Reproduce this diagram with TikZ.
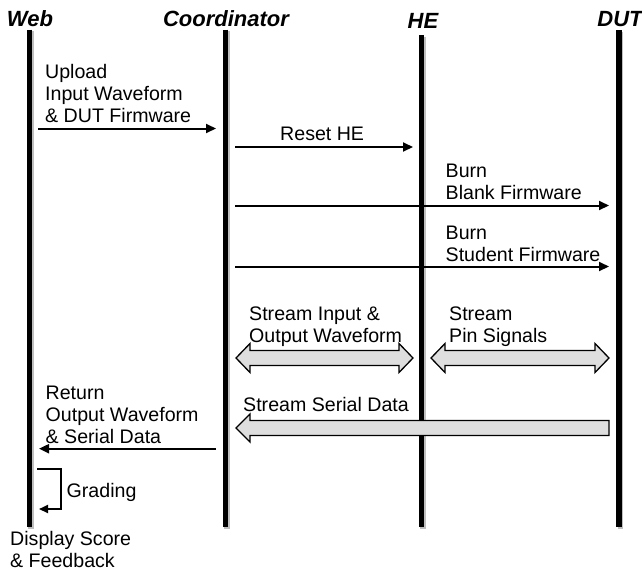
\documentclass[tikz,border=0pt]{standalone}
\usepackage{fontspec}
\setmainfont{Liberation Sans}
\usetikzlibrary{arrows.meta}
\definecolor{blockfill}{HTML}{DEDEDE}
\tikzset{
  lifeline/.style={line width=5.5pt, line cap=butt},
  lifeshadow/.style={line width=5.5pt, black!25},
  msg/.style={line width=2pt, -{Triangle[length=10pt,width=9pt]}},
  lbl/.style={anchor=south west, inner sep=0pt, text depth=0pt, align=left,
    font=\fontsize{19.6}{22}\selectfont},
  title/.style={anchor=base, inner sep=0pt, font=\fontsize{22}{26}\selectfont\bfseries\itshape},
  block/.style={draw=black, line width=1.3pt, fill=blockfill, line join=miter},
}
\begin{document}
\begin{tikzpicture}[x=1pt,y=-1pt]
\useasboundingbox (0,0) rectangle (642,576);
% lifeline coordinates
\coordinate (webT) at (29.5,29.5);   \coordinate (webB) at (29.5,527);
\coordinate (coT)  at (225.5,29.5);  \coordinate (coB)  at (225.5,527);
\coordinate (heT)  at (421.5,35);    \coordinate (heB)  at (421.5,527);
\coordinate (dutT) at (619,30);      \coordinate (dutB) at (619,527);
% shadows
\foreach \a in {web,co,he,dut}{
  \draw[lifeshadow] ([shift={(1.5,1.5)}]\a T) -- ([shift={(1.5,1.5)}]\a B);
}
\foreach \a in {web,co,he,dut}{
  \draw[lifeline] (\a T) -- (\a B);
}
% titles
\node[title] (tweb) at (30,26) {Web};
\node[title] (tco) at (226,26) {Coordinator};
\node[title] (the) at (423,28) {HE};
\node[title] (tdut) at (620,26) {DUT};

% Upload
\coordinate (u1) at (38,128.5); \coordinate (u2) at (216,128.5);
\draw[msg] (u1) -- (u2);
\node[lbl] (lu) at (45,122.7) {Upload\\Input Waveform\\\& DUT Firmware};

% Reset HE
\coordinate (r1) at (235,147); \coordinate (r2) at (413,147);
\draw[msg] (r1) -- (r2);
\node[lbl] (lr) at (280,140.7) {Reset HE};

% Burn blank
\coordinate (b1) at (235,205.5); \coordinate (b2) at (609,205.5);
\draw[msg] (b1) -- (b2);
\node[lbl] (lb) at (445.5,200) {Burn\\Blank Firmware};

% Burn student
\coordinate (s1) at (235,266.5); \coordinate (s2) at (609,266.5);
\draw[msg] (s1) -- (s2);
\node[lbl] (ls) at (445.5,261.7) {Burn\\Student Firmware};

% Stream input & output (double block arrow)
\def\yc{358}
\draw[block] (236,\yc) -- (250,\yc-14.5) -- (250,\yc-7.5) -- (399,\yc-7.5) -- (399,\yc-14.5)
  -- (413,\yc) -- (399,\yc+14.5) -- (399,\yc+7.5) -- (250,\yc+7.5) -- (250,\yc+14.5) -- cycle;
\node[lbl] (lsi) at (249,342.7) {Stream Input \&\\Output Waveform};

% Stream pin signals
\draw[block] (431,\yc) -- (445,\yc-14.5) -- (445,\yc-7.5) -- (595,\yc-7.5) -- (595,\yc-14.5)
  -- (609,\yc) -- (595,\yc+14.5) -- (595,\yc+7.5) -- (445,\yc+7.5) -- (445,\yc+14.5) -- cycle;
\node[lbl] (lsp) at (449,342.7) {Stream\\Pin Signals};

% Stream serial data (single block arrow)
\def\ys{428}
\draw[block] (236,\ys) -- (250,\ys-14) -- (250,\ys-7.5) -- (609,\ys-7.5) -- (609,\ys+7.5)
  -- (250,\ys+7.5) -- (250,\ys+14) -- cycle;
\node[lbl] (lss) at (243,411.7) {Stream Serial Data};

% Return
\coordinate (t1) at (216,448.7); \coordinate (t2) at (39,448.7);
\draw[msg] (t1) -- (t2);
\node[lbl] (lt) at (45.5,443.5) {Return\\Output Waveform\\\& Serial Data};

% Grading
\coordinate (g1) at (37,468.7); \coordinate (g2) at (60.5,468.7);
\coordinate (g3) at (60.5,509); \coordinate (g4) at (39,509);
\draw[line width=2pt, -{Triangle[length=9pt,width=8pt]}] (g1) -- (g2) -- (g3) -- (g4);
\node[lbl] (lg) at (66.5,497.3) {Grading};

% Display score
\node[lbl] (ld) at (10,568) {Display Score\\\& Feedback};
\end{tikzpicture}
\end{document}
